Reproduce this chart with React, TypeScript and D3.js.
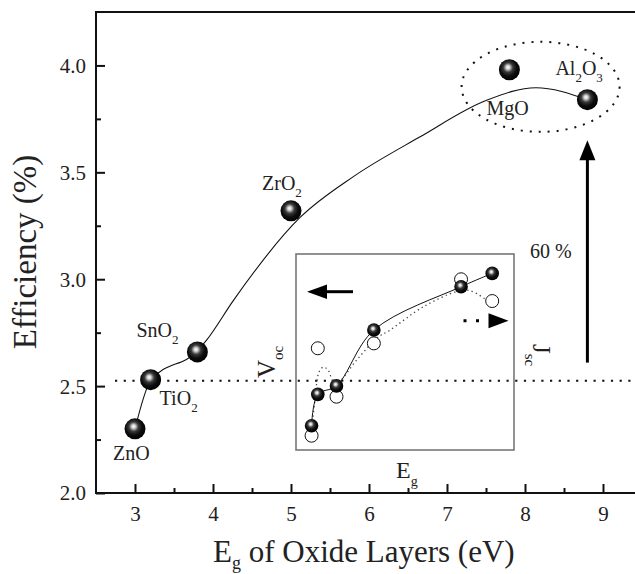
import { useEffect, useRef } from "react";
import * as d3 from "d3";

// main panel: efficiency vs band gap of the oxide coating
const oxideNames = ["Zn|O", "Ti|O|_2", "Sn|O|_2", "Zr|O|_2", "Mg|O", "Al|_2|O|_3"];
const bandGaps = [3.0, 3.2, 3.8, 5.0, 7.8, 8.8];
const efficiency = [2.3, 2.53, 2.66, 3.32, 3.98, 3.84];

// guide-to-the-eye curve
const fitGaps = [3.0, 3.2, 3.8, 3.92, 4.26, 5.12, 5.8, 6.65, 7.5, 8.14, 8.8];
const fitEfficiency = [2.3, 2.525, 2.665, 2.716, 2.9, 3.29, 3.48, 3.665, 3.836, 3.896, 3.84];

const xTicks = [3, 4, 5, 6, 7, 8, 9];
const xMinorTicks = [3.5, 4.5, 5.5, 6.5, 7.5, 8.5, 9.5];
const yTicks = [2.0, 2.5, 3.0, 3.5, 4.0];
const yMinorTicks = [2.25, 2.75, 3.25, 3.75];

const referenceLevel = 2.525;

// inset: Voc (filled) and Jsc (open), relative units
const vocLevel = [0.124, 0.284, 0.327, 0.612, 0.833, 0.901];
const jscLevel = [0.073, 0.519, 0.272, 0.544, 0.871, 0.76];
const jscFitGaps = [3.0, 3.11, 3.24, 3.38, 3.53, 3.68, 3.81, 4.45, 5.09, 5.52, 6.59, 7.66, 8.09, 8.62];
const jscFitLevel = [0.102, 0.255, 0.398, 0.423, 0.408, 0.352, 0.34, 0.459, 0.57, 0.612, 0.731, 0.808, 0.813, 0.765];

// label offsets from their point, px
const labelOffsets: [number, number][] = [
  [-22, 31],
  [9, 25],
  [-61, -15],
  [-29, -21],
  [-23, 45],
  [-32, -25],
];

const FONT = "'Liberation Serif', 'Times New Roman', serif";

const App = () => {
  const ref = useRef<SVGSVGElement | null>(null);

  useEffect(() => {
    if (!ref.current) return;
    const svg = d3.select(ref.current);
    svg.selectAll("*").remove();

    const width = 635,
      height = 574;
    const left = 96,
      top = 12,
      bottom = 493;

    svg.attr("width", width).attr("height", height);

    const defs = svg.append("defs");
    const grad = defs
      .append("radialGradient")
      .attr("id", "ball")
      .attr("cx", 0.45)
      .attr("cy", 0.42)
      .attr("r", 0.6)
      .attr("fx", 0.43)
      .attr("fy", 0.38);
    grad.append("stop").attr("offset", "0%").attr("stop-color", "#ffffff");
    grad.append("stop").attr("offset", "14%").attr("stop-color", "#d8d8d8");
    grad.append("stop").attr("offset", "38%").attr("stop-color", "#3a3a3a");
    grad.append("stop").attr("offset", "65%").attr("stop-color", "#0d0d0d");
    grad.append("stop").attr("offset", "100%").attr("stop-color", "#000000");

    const x = d3.scaleLinear().domain([2.5, 9.5]).range([left, left + 7 * 78]);
    const y = d3.scaleLinear().domain([2, 4.25]).range([bottom, top]);

    // axes (ticks point inward)
    const gx = svg
      .append("g")
      .attr("transform", `translate(0,${bottom})`)
      .call(
        d3
          .axisBottom(x)
          .tickValues(xTicks)
          .tickSizeInner(-9)
          .tickSizeOuter(0)
          .tickPadding(13)
          .tickFormat(d3.format("d"))
      );
    svg
      .append("g")
      .attr("transform", `translate(0,${bottom})`)
      .call(
        d3
          .axisBottom(x)
          .tickValues(xMinorTicks)
          .tickSizeInner(-5)
          .tickSizeOuter(0)
          .tickFormat(() => "")
      )
      .select(".domain")
      .remove();
    gx.select(".domain").remove();

    const gy = svg
      .append("g")
      .attr("transform", `translate(${left},0)`)
      .call(
        d3
          .axisLeft(y)
          .tickValues(yTicks)
          .tickSizeInner(-9)
          .tickSizeOuter(0)
          .tickPadding(10)
          .tickFormat(d3.format(".1f"))
      );
    svg
      .append("g")
      .attr("transform", `translate(${left},0)`)
      .call(
        d3
          .axisLeft(y)
          .tickValues(yMinorTicks)
          .tickSizeInner(-5)
          .tickSizeOuter(0)
          .tickFormat(() => "")
      )
      .select(".domain")
      .remove();
    gy.select(".domain").remove();

    svg.selectAll(".tick line").attr("stroke", "#111").attr("stroke-width", 2);
    svg.selectAll(".tick text").attr("fill", "#222").style("font-size", "21px");
    gy.selectAll(".tick text").attr("dy", "0.33em");

    // frame
    svg
      .append("path")
      .attr("d", `M${width + 10},${top}H${left}V${bottom}H${width + 10}`)
      .attr("fill", "none")
      .attr("stroke", "#111")
      .attr("stroke-width", 2);

    // reference dotted line
    svg
      .append("line")
      .attr("x1", 115)
      .attr("x2", width)
      .attr("y1", y(referenceLevel))
      .attr("y2", y(referenceLevel))
      .attr("stroke", "#111")
      .attr("stroke-width", 2.2)
      .attr("stroke-dasharray", "2.2 6.5");

    // fit curve
    const fitPts = fitGaps.map((g, i) => [g, fitEfficiency[i]] as [number, number]);
    svg
      .append("path")
      .datum(fitPts)
      .attr("fill", "none")
      .attr("stroke", "#111")
      .attr("stroke-width", 1.1)
      .attr(
        "d",
        d3
          .line<[number, number]>()
          .x((d) => x(d[0]))
          .y((d) => y(d[1]))
          .curve(d3.curveMonotoneX)
      );

    // points
    const pts = bandGaps.map((g, i) => ({ g, e: efficiency[i], name: oxideNames[i] }));
    svg
      .selectAll("circle.main")
      .data(pts)
      .enter()
      .append("circle")
      .attr("class", "main")
      .attr("cx", (d) => x(d.g))
      .attr("cy", (d) => y(d.e))
      .attr("r", 10.5)
      .attr("fill", "url(#ball)");

    // labels with subscripts
    const addRich = (sel: any, spec: string, size: number, subSize: number, subShift: number) => {
      let inSub = false;
      sel.style("font-size", `${size}px`);
      spec.split("|").forEach((part) => {
        const sub = part.startsWith("_");
        const txt = sub ? part.slice(1) : part;
        const t = sel.append("tspan").text(txt).style("font-size", `${sub ? subSize : size}px`);
        if (sub && !inSub) t.attr("dy", subShift);
        if (!sub && inSub) t.attr("dy", -subShift);
        inSub = sub;
      });
    };

    pts.forEach((d, i) => {
      const t = svg
        .append("text")
        .attr("x", x(d.g) + labelOffsets[i][0])
        .attr("y", y(d.e) + labelOffsets[i][1])
        .attr("fill", "#222");
      addRich(t, d.name, 20, 13, 7);
    });

    // dotted ellipse around MgO / Al2O3
    svg
      .append("ellipse")
      .attr("cx", x(8.2))
      .attr("cy", y(3.9))
      .attr("rx", 79)
      .attr("ry", 45)
      .attr("fill", "none")
      .attr("stroke", "#111")
      .attr("stroke-width", 2)
      .attr("stroke-dasharray", "2 7");

    // 60 % arrow
    const ax = x(8.8);
    const tipY = y(3.65);
    svg
      .append("line")
      .attr("x1", ax)
      .attr("x2", ax)
      .attr("y1", y(2.61))
      .attr("y2", tipY + 15)
      .attr("stroke", "#000")
      .attr("stroke-width", 3);
    svg
      .append("path")
      .attr("d", `M${ax},${tipY}L${ax - 8},${tipY + 20}L${ax + 8},${tipY + 20}Z`)
      .attr("fill", "#000");
    svg
      .append("text")
      .attr("x", 530)
      .attr("y", 258)
      .attr("fill", "#222")
      .style("font-size", "20px")
      .text("60 %");

    // inset
    const ix = d3.scaleLinear().domain([2.5, 9.5]).range([296, 514]);
    const iy = d3.scaleLinear().domain([0, 1]).range([450, 254]);
    const inset = svg.append("g");
    inset
      .append("rect")
      .attr("x", 296)
      .attr("y", 254)
      .attr("width", 218)
      .attr("height", 196)
      .attr("fill", "none")
      .attr("stroke", "#777")
      .attr("stroke-width", 1.6);

    const jscPts = jscFitGaps.map((g, i) => [g, jscFitLevel[i]] as [number, number]);
    inset
      .append("path")
      .datum(jscPts)
      .attr("fill", "none")
      .attr("stroke", "#444")
      .attr("stroke-width", 1.3)
      .attr("stroke-dasharray", "1.3 3.2")
      .attr(
        "d",
        d3
          .line<[number, number]>()
          .x((d) => ix(d[0]))
          .y((d) => iy(d[1]))
          .curve(d3.curveCatmullRom.alpha(0.5))
      );

    const vocPts = bandGaps.map((g, i) => [g, vocLevel[i]] as [number, number]);
    inset
      .append("path")
      .datum(vocPts)
      .attr("fill", "none")
      .attr("stroke", "#111")
      .attr("stroke-width", 1)
      .attr(
        "d",
        d3
          .line<[number, number]>()
          .x((d) => ix(d[0]))
          .y((d) => iy(d[1]))
          .curve(d3.curveCatmullRom.alpha(0.5))
      );

    inset
      .selectAll("circle.jsc")
      .data(bandGaps)
      .enter()
      .append("circle")
      .attr("class", "jsc")
      .attr("cx", (d) => ix(d))
      .attr("cy", (_, i) => iy(jscLevel[i]))
      .attr("r", 6.5)
      .attr("fill", "#fff")
      .attr("stroke", "#111")
      .attr("stroke-width", 1);

    inset
      .selectAll("circle.voc")
      .data(bandGaps)
      .enter()
      .append("circle")
      .attr("class", "voc")
      .attr("cx", (d) => ix(d))
      .attr("cy", (_, i) => iy(vocLevel[i]))
      .attr("r", 6.8)
      .attr("fill", "url(#ball)");

    // inset arrows
    inset
      .append("line")
      .attr("x1", 353)
      .attr("x2", 324)
      .attr("y1", 291.7)
      .attr("y2", 291.7)
      .attr("stroke", "#000")
      .attr("stroke-width", 3);
    inset
      .append("path")
      .attr("d", "M307,291.7L327,284.5L327,299Z")
      .attr("fill", "#000");
    inset
      .append("line")
      .attr("x1", 463.5)
      .attr("x2", 486)
      .attr("y1", 320.7)
      .attr("y2", 320.7)
      .attr("stroke", "#000")
      .attr("stroke-width", 3)
      .attr("stroke-dasharray", "3 9.5");
    inset
      .append("path")
      .attr("d", "M508.5,320.7L488.5,313.3L488.5,328.3Z")
      .attr("fill", "#000");

    // inset axis labels
    const voc = svg
      .append("text")
      .attr("transform", "translate(275,378) rotate(-90)")
      .attr("fill", "#222");
    addRich(voc, "V|_oc", 25, 15, 8);
    const jsc = svg
      .append("text")
      .attr("transform", "translate(533,344) rotate(90)")
      .attr("fill", "#222");
    addRich(jsc, "J|_sc", 25, 15, 8);
    const eg = svg.append("text").attr("x", 396).attr("y", 478).attr("fill", "#222");
    addRich(eg, "E|_g", 24, 14, 8);

    // axis titles
    const xt = svg.append("text").attr("x", 213).attr("y", 562).attr("fill", "#222");
    addRich(xt, "E|_g| of Oxide Layers (eV)", 31, 18, 7);
    svg
      .append("text")
      .attr("transform", "translate(36,252) rotate(-90)")
      .attr("text-anchor", "middle")
      .attr("fill", "#222")
      .style("font-size", "33px")
      .text("Efficiency (%)");

    // one font for every label, set last so the axis defaults don't win
    svg.selectAll("text").style("font-family", FONT);
  }, []);

  return <svg ref={ref} style={{ position: "absolute", left: 0, top: 0 }}></svg>;
};

export default App;
